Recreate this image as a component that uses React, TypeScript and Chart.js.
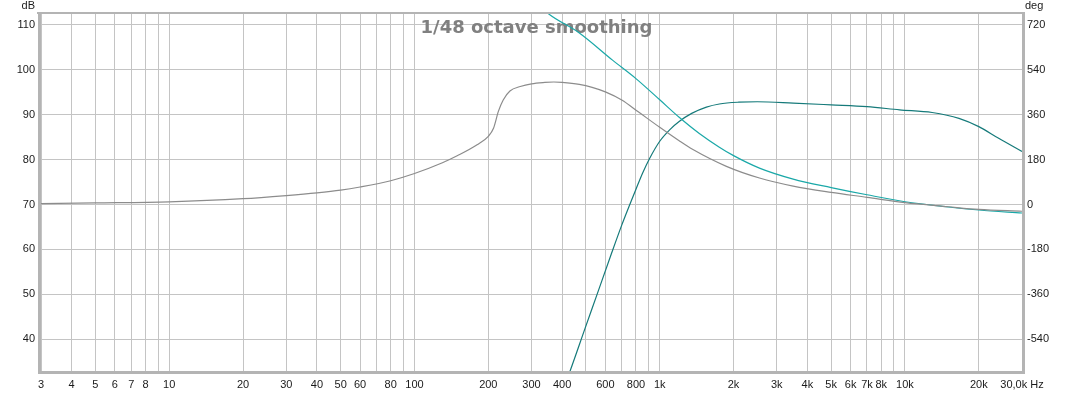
import React, { useEffect, useRef } from 'react';
import { Chart, registerables } from 'chart.js';

Chart.register(...registerables);

// Measured SPL (grey), dB
const grayFreq = [3, 5, 10, 20, 30, 40, 50, 60, 80, 100, 130, 150, 180, 200, 210, 220, 230, 245, 270, 300, 340, 370, 400, 470, 530, 600, 700, 820, 1000, 1200, 1360, 1870, 2550, 3500, 5000, 7000, 10000, 15000, 20000, 30000];
const grayDb = [70.2, 70.35, 70.6, 71.3, 72.0, 72.6, 73.2, 73.9, 75.3, 76.9, 79.3, 80.9, 83.3, 85.2, 87.0, 90.8, 93.3, 95.3, 96.3, 96.9, 97.2, 97.3, 97.2, 96.75, 96.1, 95.1, 93.3, 90.6, 87.2, 84.2, 82.3, 78.5, 75.9, 74.1, 72.7, 71.6, 70.4, 69.5, 68.9, 68.5];

// Phase (light teal), degrees
const phaseFreq = [330, 355, 470, 640, 800, 1000, 1200, 1450, 1750, 2000, 2550, 3500, 5000, 7000, 10000, 15000, 20000, 30000];
const phaseDeg = [790, 762, 688, 580, 505, 420, 350, 285, 230, 196, 146, 102, 68, 39, 11, -10, -22, -34];

// High-pass response (dark teal), dB
const hpFreq = [415, 431, 496, 553, 634, 700, 750, 800, 850, 908, 1000, 1100, 1200, 1350, 1550, 1750, 2100, 2500, 3500, 5000, 7000, 9500, 12900, 16600, 20000, 24000, 30000];
const hpDb = [30.5, 32.9, 42.4, 49.7, 58.9, 65.4, 69.6, 73.4, 76.9, 80.2, 84.1, 86.7, 88.5, 90.3, 91.7, 92.4, 92.8, 92.9, 92.6, 92.2, 91.8, 91.1, 90.5, 89.2, 87.35, 84.8, 81.8];

// Axis ticks
const xTickValues = [3, 4, 5, 6, 7, 8, 9, 10, 20, 30, 40, 50, 60, 70, 80, 90, 100, 200, 300, 400, 500, 600, 700, 800, 900, 1000, 2000, 3000, 4000, 5000, 6000, 7000, 8000, 9000, 10000, 20000, 30000];
const xTickLabels = ['3', '4', '5', '6', '7', '8', '', '10', '20', '30', '40', '50', '60', '', '80', '', '100', '200', '300', '400', '', '600', '', '800', '', '1k', '2k', '3k', '4k', '5k', '6k', '7k', '8k', '', '10k', '20k', '30,0k Hz'];
const dbTicks = [40, 50, 60, 70, 80, 90, 100, 110];
const degTicks = [-540, -360, -180, 0, 180, 360, 540, 720];

const TITLE = '1/48 octave smoothing';
const LEFT_UNIT = 'dB';
const RIGHT_UNIT = 'deg';

const TICK_FONT = { family: '"Liberation Sans", Arial, sans-serif', size: 11 };

export default function App() {
  const ref = useRef<HTMLCanvasElement>(null);

  useEffect(() => {
    if (!ref.current) return;
    const pts = (xs: number[], ys: number[]) => xs.map((x, i) => ({ x, y: ys[i] }));

    const overlay = {
      id: 'overlay',
      beforeDatasetsDraw(chart: any) {
        const { ctx, chartArea } = chart;
        ctx.save();
        ctx.font = 'bold 18px "DejaVu Sans", sans-serif';
        ctx.fillStyle = '#808080';
        ctx.textAlign = 'center';
        ctx.textBaseline = 'alphabetic';
        ctx.fillText(TITLE, 536.5, chartArea.top + 19);
        ctx.restore();
      },
      afterDraw(chart: any) {
        const { ctx, chartArea } = chart;
        const { left, right, top, bottom } = chartArea;
        ctx.save();
        ctx.strokeStyle = '#b4b4b4';
        // top
        ctx.lineWidth = 2;
        ctx.beginPath();
        ctx.moveTo(left - 4, top - 1);
        ctx.lineTo(right + 3, top - 1);
        ctx.stroke();
        // left
        ctx.lineWidth = 3;
        ctx.beginPath();
        ctx.moveTo(left - 1.5, top - 2);
        ctx.lineTo(left - 1.5, bottom + 3);
        ctx.stroke();
        // bottom
        ctx.beginPath();
        ctx.moveTo(left - 3, bottom + 1.5);
        ctx.lineTo(right + 3, bottom + 1.5);
        ctx.stroke();
        // right
        ctx.beginPath();
        ctx.moveTo(right + 1.5, top - 2);
        ctx.lineTo(right + 1.5, bottom + 3);
        ctx.stroke();

        ctx.fillStyle = '#1a1a1a';
        ctx.font = '11px "Liberation Sans", Arial, sans-serif';
        ctx.textBaseline = 'middle';
        ctx.textAlign = 'right';
        ctx.fillText(LEFT_UNIT, 35, 6);
        ctx.textAlign = 'left';
        ctx.fillText(RIGHT_UNIT, 1025, 6);
        ctx.restore();
      },
    };

    const chart = new Chart(ref.current, {
      type: 'line',
      data: {
        datasets: [
          {
            label: 'SPL',
            data: pts(grayFreq, grayDb),
            borderColor: '#8c8c8c',
            borderWidth: 1.2,
            pointRadius: 0,
            cubicInterpolationMode: 'monotone',
            yAxisID: 'y',
          },
          {
            label: 'Phase',
            data: pts(phaseFreq, phaseDeg),
            borderColor: '#1aa8a8',
            borderWidth: 1.2,
            pointRadius: 0,
            cubicInterpolationMode: 'monotone',
            yAxisID: 'y1',
          },
          {
            label: 'HP',
            data: pts(hpFreq, hpDb),
            borderColor: '#157a7a',
            borderWidth: 1.2,
            pointRadius: 0,
            cubicInterpolationMode: 'monotone',
            yAxisID: 'y',
          },
        ],
      },
      options: {
        animation: false,
        responsive: false,
        devicePixelRatio: 1,
        layout: { padding: { top: 14, left: 0, right: 0, bottom: 0 } },
        plugins: {
          legend: { display: false },
          tooltip: { enabled: false },
          title: { display: false },
        },
        scales: {
          x: {
            type: 'logarithmic',
            min: 3,
            max: 30000,
            afterBuildTicks: (scale: any) => {
              scale.ticks = xTickValues.map((v) => ({ value: v }));
            },
            afterFit: (scale: any) => {
              scale.height = 22;
            },
            grid: { color: '#c4c4c4', lineWidth: 1, drawTicks: false },
            border: { display: false },
            ticks: {
              autoSkip: false,
              maxRotation: 0,
              minRotation: 0,
              padding: 7,
              color: '#1a1a1a',
              font: TICK_FONT,
              callback: (_v: any, i: number) => xTickLabels[i],
            },
          },
          y: {
            type: 'linear',
            position: 'left',
            min: 32.9,
            max: 112.45,
            afterBuildTicks: (scale: any) => {
              scale.ticks = dbTicks.map((v) => ({ value: v }));
            },
            afterFit: (scale: any) => {
              scale.width = 41;
            },
            grid: { color: '#c4c4c4', lineWidth: 1, drawTicks: false },
            border: { display: false },
            ticks: {
              padding: 6,
              color: '#1a1a1a',
              font: TICK_FONT,
              callback: (v: any) => String(v),
            },
          },
          y1: {
            type: 'linear',
            position: 'right',
            min: -667.8,
            max: 764.1,
            afterBuildTicks: (scale: any) => {
              scale.ticks = degTicks.map((v) => ({ value: v }));
            },
            afterFit: (scale: any) => {
              scale.width = 51;
            },
            grid: { drawOnChartArea: false, drawTicks: false },
            border: { display: false },
            ticks: {
              padding: 5,
              color: '#1a1a1a',
              font: TICK_FONT,
              callback: (v: any) => String(v),
            },
          },
        },
      },
      plugins: [overlay],
    } as any);

    return () => chart.destroy();
  }, []);

  return (
    <div style={{ position: 'absolute', left: 0, top: 0, width: 1073, height: 393, background: '#ffffff' }}>
      <canvas ref={ref} width={1073} height={393} style={{ display: 'block' }} />
    </div>
  );
}
